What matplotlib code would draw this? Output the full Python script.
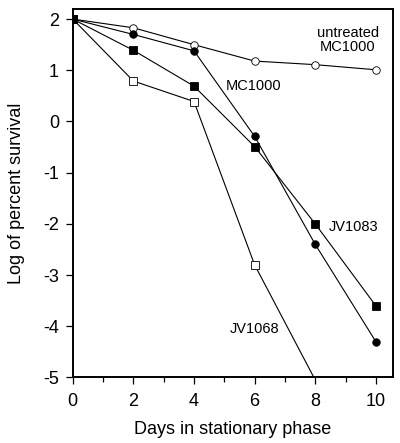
import matplotlib
matplotlib.use("Agg")
import matplotlib.pyplot as plt
from matplotlib.ticker import MultipleLocator

plt.rcParams['font.family'] = ['Liberation Sans', 'DejaVu Sans']
plt.rcParams['axes.unicode_minus'] = False

days = [0, 2, 4, 6, 8, 10]
untreated_mc1000 = [2.0, 1.83, 1.5, 1.18, 1.11, 1.01]
mc1000 = [2.0, 1.7, 1.38, -0.29, -2.4, -4.3]
jv1083 = [2.0, 1.39, 0.69, -0.49, -2.0, -3.6]
jv1068_days = [0, 2, 4, 6, 8]
jv1068 = [2.0, 0.79, 0.39, -2.8, -5.05]

fig = plt.figure(figsize=(4.0, 4.43), dpi=100)
ax = fig.add_axes([0.182, 0.148, 0.8, 0.832])

kw = dict(color='black', lw=0.8, markersize=5.4, markeredgewidth=0.6)
ax.plot(days, untreated_mc1000, marker='o', mfc='white', mec='black', **kw)
ax.plot(jv1068_days, jv1068, marker='s', mfc='white', mec='black',
        markevery=[0, 1, 2, 3], **kw)
ax.plot(days, jv1083, marker='s', mfc='black', mec='black', **kw)
ax.plot(days, mc1000, marker='o', mfc='black', mec='black', **kw)

tkw = dict(fontsize=10.5, ha='center', va='center')
ax.text(9.07, 1.59, 'untreated\nMC1000', linespacing=1.05, **tkw)
ax.text(5.98, 0.70, 'MC1000', **tkw)
ax.text(9.25, -2.06, 'JV1083', **tkw)
ax.text(5.99, -4.06, 'JV1068', **tkw)

ax.set_xlim(0, 10.56)
ax.set_ylim(-5, 2.2)
ax.xaxis.set_major_locator(MultipleLocator(2))
ax.xaxis.set_minor_locator(MultipleLocator(1))
ax.yaxis.set_major_locator(MultipleLocator(1))
ax.tick_params(which='major', direction='out', length=5, width=0.9,
               labelsize=13, pad=5)
ax.tick_params(which='minor', direction='out', length=3.5, width=0.9)
ax.tick_params(axis='x', which='major', pad=6)
for s in ax.spines.values():
    s.set_linewidth(1.4)

ax.set_xlabel('Days in stationary phase', fontsize=13, labelpad=8)
ax.set_ylabel('Log of percent survival', fontsize=13, labelpad=13)

fig.savefig('out.png', dpi=100)
